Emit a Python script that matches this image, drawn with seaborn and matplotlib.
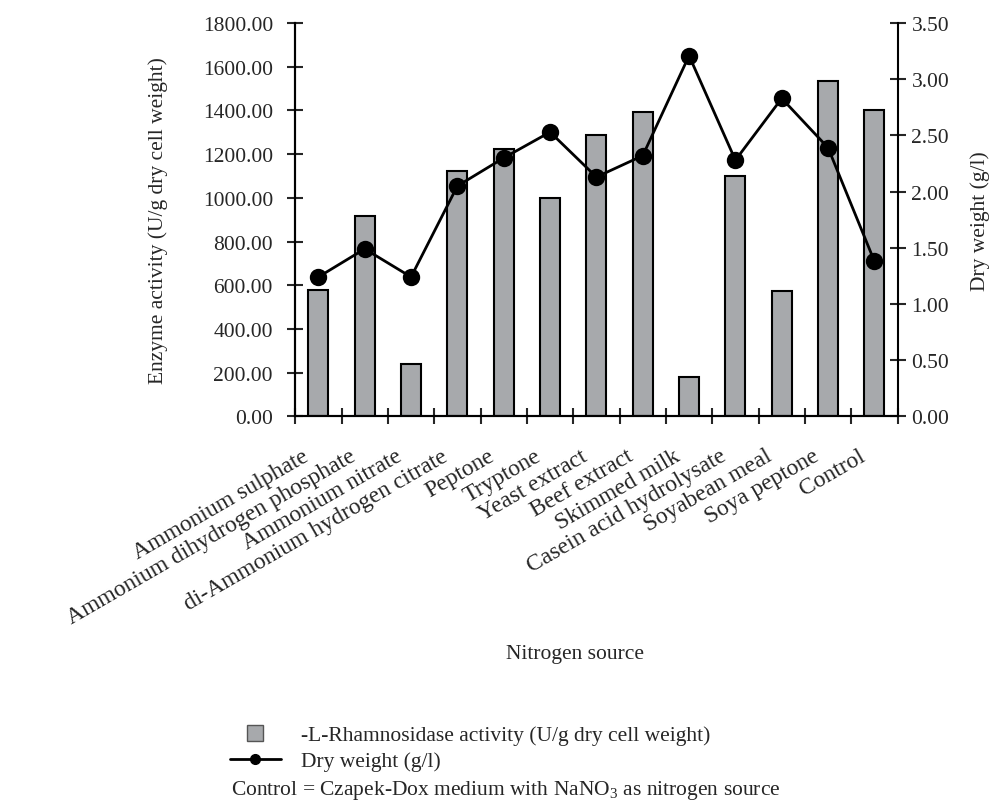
import numpy as np
import pandas as pd
import seaborn as sns
import matplotlib.pyplot as plt
from matplotlib.lines import Line2D
from matplotlib.transforms import ScaledTranslation

sources = ["Ammonium sulphate", "Ammonium dihydrogen phosphate", "Ammonium nitrate",
           "di-Ammonium hydrogen citrate", "Peptone", "Tryptone", "Yeast extract",
           "Beef extract", "Skimmed milk", "Casein acid hydrolysate", "Soyabean meal",
           "Soya peptone", "Control"]
activity = [580, 915, 240, 1125, 1222, 1000, 1288, 1392, 180, 1100, 575, 1535, 1400]
dry_weight = [1.24, 1.49, 1.24, 2.05, 2.30, 2.53, 2.13, 2.32, 3.21, 2.28, 2.83, 2.39, 1.38]

left_ticks = np.arange(0, 1801, 200)
right_ticks = np.arange(0, 3.51, 0.5)

sns.set_style("ticks")
plt.rcParams["font.family"] = ["Liberation Serif", "DejaVu Serif"]
plt.rcParams["mathtext.fontset"] = "custom"
plt.rcParams["mathtext.rm"] = "Liberation Serif"
plt.rcParams["mathtext.default"] = "regular"

fs = 15.5
bar_gray = "#a7a9ac"

df = pd.DataFrame({"source": sources, "activity": activity, "dry": dry_weight})

fig = plt.figure(figsize=(9.94, 8.04), dpi=100)
ax = fig.add_axes([0.297, 0.481, 0.606, 0.489])

sns.barplot(data=df, x="source", y="activity", ax=ax, color=bar_gray, saturation=1,
            width=0.43, edgecolor="black", linewidth=1.5)
ax.set_ylim(0, 1800)
ax.set_yticks(left_ticks)
ax.set_yticklabels([f"{v:.2f}" for v in left_ticks], fontsize=fs)
ax.set_ylabel("Enzyme activity (U/g dry cell weight)", fontsize=fs, labelpad=25)

ax2 = ax.twinx()
sns.pointplot(data=df, x="source", y="dry", ax=ax2, color="black", markers="o",
              linestyles="-", markersize=11, linewidth=2, errorbar=None)
ax2.set_ylim(0, 3.5)
ax2.set_yticks(right_ticks)
ax2.set_yticklabels([f"{v:.2f}" for v in right_ticks], fontsize=fs)
ax2.set_ylabel("Dry weight (g/l)", fontsize=fs, labelpad=15)
ax2.set_xlim(-0.5, len(sources) - 0.5)
ax.set_xlim(-0.5, len(sources) - 0.5)

for a in (ax, ax2):
    a.spines["top"].set_visible(False)
    for s in a.spines.values():
        s.set_linewidth(1.5)
        s.set_color("black")
ax.spines["right"].set_visible(False)

ax.tick_params(axis="y", direction="inout", length=12, width=1.5, pad=10)
ax2.tick_params(axis="y", direction="inout", length=12, width=1.5, pad=4)

# category labels at centres, tick marks at the boundaries
ax.set_xticks(range(len(sources)))
ax.set_xticks(np.arange(-0.5, len(sources), 1.0), minor=True)
ax.tick_params(axis="x", which="major", length=0, pad=0)
ax.tick_params(axis="x", which="minor", direction="inout", length=12, width=1.5)
ax.set_xticklabels(sources, rotation=30, ha="right", va="center",
                   rotation_mode="anchor", fontsize=17)
off = ScaledTranslation(-0.11, -0.38, fig.dpi_scale_trans)
for lab in ax.get_xticklabels():
    lab.set_transform(lab.get_transform() + off)

ax.set_xlabel("Nitrogen source", fontsize=fs)
ax.xaxis.set_label_coords(0.464, -0.58)

handles = [Line2D([], [], marker="s", markersize=11, markerfacecolor=bar_gray,
                  markeredgecolor="#555555", linestyle="none"),
           Line2D([], [], color="black", marker="o", markersize=7, linewidth=2)]
labels = ["-L-Rhamnosidase activity (U/g dry cell weight)", "Dry weight (g/l)"]
fig.legend(handles, labels, loc="upper left", bbox_to_anchor=(0.231, 0.097),
           frameon=False, fontsize=fs, handlelength=2.4, handletextpad=0.9,
           labelspacing=0.28, borderpad=0, borderaxespad=0)
fig.text(0.232, 0.017, "Control = Czapek-Dox medium with NaNO$_3$ as nitrogen source",
         fontsize=fs, ha="left", va="center")

fig.savefig("out.png", dpi=100)
